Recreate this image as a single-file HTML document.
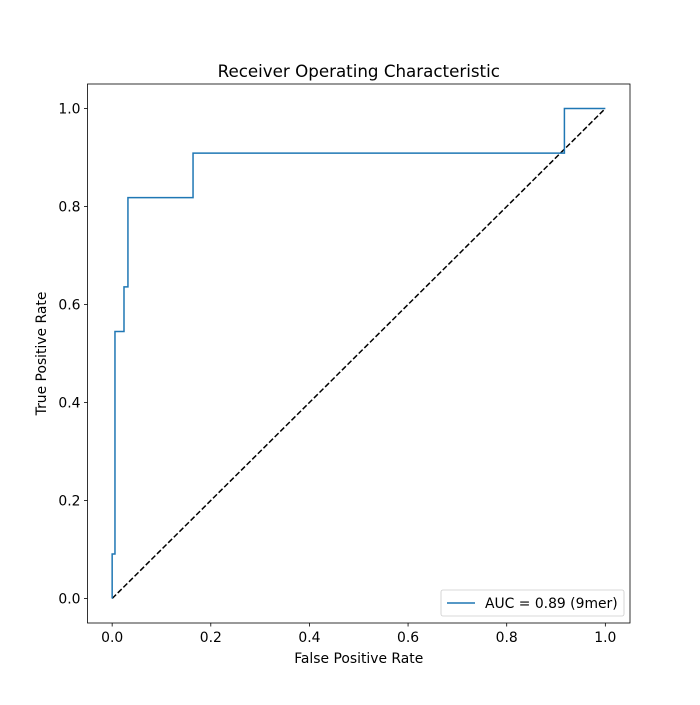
<!DOCTYPE html>
<html><head><meta charset="utf-8"><style>body{margin:0;background:#fff}svg{font-family:"DejaVu Sans","Liberation Sans",sans-serif}</style></head>
<body>
<svg id="chart" width="700" height="700" viewBox="0 0 700 700">
<rect width="700" height="700" fill="#fff"/>
<g id="plot"></g>
</svg>
<script>
const fpr = [0, 0, 0.0057, 0.0057, 0.024, 0.024, 0.032, 0.032, 0.164, 0.164, 0.917, 0.917, 1];
const tpr = [0, 0.0909, 0.0909, 0.545, 0.545, 0.636, 0.636, 0.818, 0.818, 0.909, 0.909, 1, 1];
const ticks = [0, 0.2, 0.4, 0.6, 0.8, 1.0];
const tickLabels = ["0.0", "0.2", "0.4", "0.6", "0.8", "1.0"];
const L=87.5,R=630,T=84,B=623;
const X=v=>L+(v+0.05)/1.1*(R-L);
const Y=v=>B-(v+0.05)/1.1*(B-T);
const NS="http://www.w3.org/2000/svg";
const g=document.getElementById('plot');
function mk(tag,attrs,parent){const e=document.createElementNS(NS,tag);for(const k in attrs)e.setAttribute(k,attrs[k]);(parent||g).appendChild(e);return e;}
const diag=mk('line',{x1:X(0),y1:Y(0),x2:X(1),y2:Y(1),stroke:'#000','stroke-width':1.5,'stroke-dasharray':'5.5,2.4'});


const roc=mk('polyline',{points:fpr.map((f,i)=>X(f)+','+Y(tpr[i])).join(' '),fill:'none',stroke:'#1f77b4','stroke-width':1.5});


const fr=mk('rect',{x:L,y:T,width:R-L,height:B-T,fill:'none',stroke:'#000','stroke-width':0.8});


ticks.forEach((t,i)=>{
  const xt=mk('line',{x1:X(t),y1:B,x2:X(t),y2:B+3.5,stroke:'#000','stroke-width':0.8});
  
  
  const xl=mk('text',{x:X(t),y:B+19,'font-size':13.9,'text-anchor':'middle'});xl.textContent=tickLabels[i];
  
  
  const yt=mk('line',{x1:L-3.5,y1:Y(t),x2:L,y2:Y(t),stroke:'#000','stroke-width':0.8});
  
  
  const yl=mk('text',{x:L-7,y:Y(t)+5,'font-size':13.9,'text-anchor':'end'});yl.textContent=tickLabels[i];
  
  
});
const title=mk('text',{x:(L+R)/2,y:77,'font-size':16.7,'text-anchor':'middle'});title.textContent='Receiver Operating Characteristic';


const xa=mk('text',{x:(L+R)/2,y:663,'font-size':13.9,'text-anchor':'middle'});xa.textContent='False Positive Rate';


const ya=mk('text',{x:0,y:0,'font-size':13.9,'text-anchor':'middle',transform:`translate(46,${(T+B)/2}) rotate(-90)`});ya.textContent='True Positive Rate';


const lg=mk('g',{});


mk('rect',{x:441,y:590,width:183,height:26,rx:2,fill:'#fff',stroke:'#ccc','stroke-width':0.8},lg);
const le=mk('line',{x1:447,y1:603,x2:475,y2:603,stroke:'#1f77b4','stroke-width':1.5},lg);


const lt=mk('text',{x:485,y:608,'font-size':13.9},lg);lt.textContent='AUC = 0.89 (9mer)';


</script>
</body></html>
